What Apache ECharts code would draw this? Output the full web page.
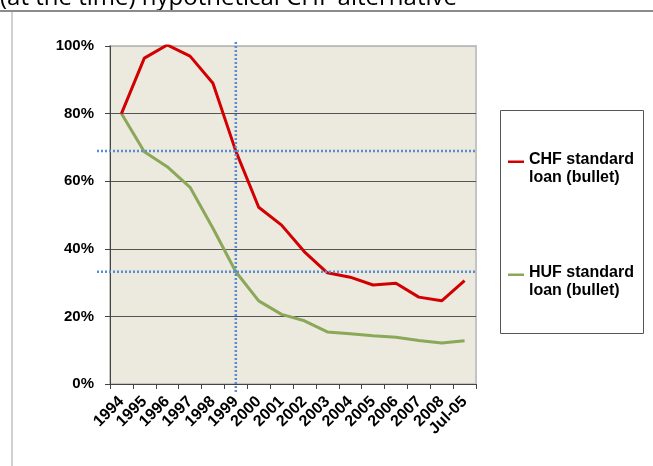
<!DOCTYPE html>
<html>
<head>
<meta charset="utf-8">
<script src="https://cdn.jsdelivr.net/npm/echarts@6/dist/echarts.min.js"></script>
<style>
  html, body { margin: 0; padding: 0; background: #fff; }
  #main { width: 653px; height: 466px; }
</style>
</head>
<body>
<div id="main"></div>
<script>
// categories and values (share of original loan, %)
const years = ['1994', '1995', '1996', '1997', '1998', '1999', '2000', '2001',
  '2002', '2003', '2004', '2005', '2006', '2007', '2008', 'Jul-05'];
const chfLoan = [80, 96.4, 100.3, 97.0, 89.0, 68.9, 52.3, 47.0,
  39.1, 32.9, 31.6, 29.3, 29.8, 25.7, 24.6, 30.6];
const hufLoan = [80, 68.7, 64.3, 58.2, 46.1, 33.2, 24.6, 20.6,
  18.7, 15.4, 14.9, 14.3, 13.8, 12.9, 12.1, 12.8];
const chfName = 'CHF standard\nloan (bullet)';
const hufName = 'HUF standard\nloan (bullet)';
const refYear = '1999';
const refLevels = [68.9, 33.2];

const bold = { fontFamily: 'Liberation Sans, Arial, sans-serif', fontWeight: 'bold', color: '#000' };
// legend line sits on the first text row
const legendIcon = 'path://M0,1.5H20V4.5H0Z M0,0H0.01V0.01H0Z M0,24H0.01V24.01H0Z';
const dotted = { stroke: '#5B8BD0', lineWidth: 2.5, lineDash: [2, 2] };

let myChart = echarts.init(document.getElementById('main'));
let frame = [
  { type: 'text', left: 0, top: -14,
    style: { text: '(at the time) hypothetical CHF alternative', fill: '#000',
      font: '24px "Open Sans", sans-serif' } },
  { type: 'line', shape: { x1: 0, y1: 11, x2: 653, y2: 11 },
    style: { stroke: '#8c8c8c', lineWidth: 2 } },
  { type: 'line', shape: { x1: 12, y1: 12, x2: 12, y2: 466 },
    style: { stroke: '#d0d0d0', lineWidth: 2 } },
  { type: 'rect', shape: { x: 500.5, y: 110.5, width: 143, height: 223 },
    style: { fill: '#fff', stroke: '#555', lineWidth: 1 } }
];
let option = {
  animation: false,
  backgroundColor: '#fff',
  graphic: frame,
  grid: {
    left: 110, right: 177, top: 46, bottom: 82,
    show: true, backgroundColor: '#ECE9DF', borderColor: '#c4c4c4', borderWidth: 2
  },
  legend: {
    orient: 'vertical',
    left: 503, top: 146,
    itemGap: 77,
    itemWidth: 16, itemHeight: 24,
    icon: legendIcon,
    textStyle: Object.assign({ fontSize: 16, lineHeight: 18 }, bold),
    data: [chfName, hufName]
  },
  xAxis: {
    type: 'category',
    data: years,
    boundaryGap: true,
    axisLine: { lineStyle: { color: '#444', width: 1 } },
    axisTick: { show: true, length: 5, lineStyle: { color: '#444' } },
    axisLabel: Object.assign({ interval: 0, rotate: 45, fontSize: 16, margin: 15 }, bold),
    splitLine: { show: false }
  },
  yAxis: {
    type: 'value',
    min: 0, max: 100, interval: 20,
    axisLine: { show: true, lineStyle: { color: '#444', width: 1 } },
    axisTick: { show: true, length: 5, lineStyle: { color: '#444' } },
    axisLabel: Object.assign({ formatter: '{value}%', fontSize: 15, margin: 16 }, bold),
    splitLine: { show: true, lineStyle: { color: ['#555', '#555', '#555', '#555', '#555', '#b8b8b8'], width: 1 } }
  },
  series: [
    {
      name: chfName,
      type: 'line',
      data: chfLoan,
      symbol: 'none',
      lineStyle: { color: '#D20000', width: 3 },
      itemStyle: { color: '#D20000' },
      z: 3
    },
    {
      name: hufName,
      type: 'line',
      data: hufLoan,
      symbol: 'none',
      lineStyle: { color: '#8AA858', width: 3 },
      itemStyle: { color: '#8AA858' },
      z: 2
    }
  ]
};
myChart.setOption(option);

// reference cross-hairs, placed through the axes and run a little past the plot
let gridRect = myChart.getModel().getComponent('grid', 0).coordinateSystem.getRect();
let guides = [];
let xRef = myChart.convertToPixel({ gridIndex: 0 }, [refYear, 0])[0];
guides.push({ type: 'line', z: 50, shape: { x1: xRef, y1: gridRect.y - 4, x2: xRef, y2: gridRect.y + gridRect.height + 9 }, style: dotted });
refLevels.forEach(v => {
  let yRef = myChart.convertToPixel({ gridIndex: 0 }, [refYear, v])[1];
  guides.push({ type: 'line', z: 50, shape: { x1: gridRect.x - 13, y1: yRef, x2: gridRect.x + gridRect.width, y2: yRef }, style: dotted });
});
myChart.setOption({ graphic: frame.concat(guides) });
</script>
</body>
</html>
